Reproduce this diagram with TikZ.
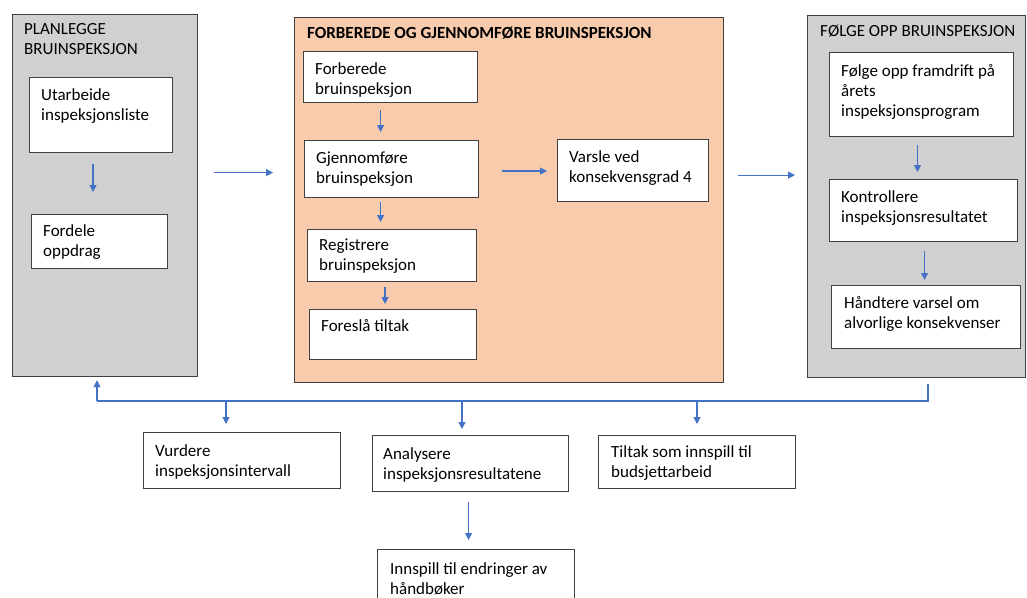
\documentclass[tikz,border=0pt]{standalone}
\usepackage{fontspec}
\setmainfont{Carlito}
\usetikzlibrary{arrows.meta,positioning,calc}
\definecolor{panelgray}{RGB}{208,208,208}
\definecolor{peach}{RGB}{248,203,173}
\definecolor{flowblue}{RGB}{68,114,196}
\definecolor{edgegray}{RGB}{64,64,64}

\begin{document}
\begin{tikzpicture}[x=1pt, y=-1pt,
  panel/.style={draw=edgegray, line width=1.2pt, anchor=north west, inner sep=0pt},
  stepbox/.style={draw=edgegray, line width=1.1pt, fill=white, anchor=north west, inner sep=0pt},
  steptext/.style={anchor=north west, align=left, inner sep=0pt, font=\fontsize{17}{20}\selectfont},
  flow/.style={draw=flowblue, line width=1.2pt, -{Triangle[length=7pt,width=7pt]}},
  link/.style={draw=flowblue, line width=1.2pt},
]
\useasboundingbox (0,0) rectangle (1027,597);

% Panels
\node[panel, fill=panelgray, minimum width=185, minimum height=362] (planlegge) at (12,14) {};
\node[steptext] at ([shift={(12,9)}]planlegge.north west) {PLANLEGGE\\BRUINSPEKSJON};

\node[panel, fill=peach, minimum width=429, minimum height=365] (gjennomfore) at (294,17) {};
\node[steptext, font=\fontsize{17}{20}\selectfont\bfseries] at ([shift={(13,10)}]gjennomfore.north west) {FORBEREDE OG GJENNOMFØRE BRUINSPEKSJON};

\node[panel, fill=panelgray, minimum width=218, minimum height=362] (folgeopp) at (807,15) {};
\node[steptext] at ([shift={(13,10)}]folgeopp.north west) {FØLGE OPP BRUINSPEKSJON};

% Planlegge steps
\node[stepbox, minimum width=143, minimum height=75] (utarbeide) at (29,77) {};
\node[steptext] at ([shift={(12,11)}]utarbeide.north west) {Utarbeide\\inspeksjonsliste};
\node[stepbox, minimum width=136, minimum height=54] (fordele) at (31,214) {};
\node[steptext] at ([shift={(12,10)}]fordele.north west) {Fordele\\oppdrag};

% Forberede og gjennomføre steps
\node[stepbox, minimum width=174, minimum height=51] (forberede) at (303,51) {};
\node[steptext] at ([shift={(12,11)}]forberede.north west) {Forberede\\bruinspeksjon};
\node[stepbox, minimum width=174, minimum height=57] (utfore) at (304,140) {};
\node[steptext] at ([shift={(12,12)}]utfore.north west) {Gjennomføre\\bruinspeksjon};
\node[stepbox, minimum width=169, minimum height=52] (registrere) at (307,229) {};
\node[steptext] at ([shift={(12,10)}]registrere.north west) {Registrere\\bruinspeksjon};
\node[stepbox, minimum width=167, minimum height=50] (foresla) at (309,309) {};
\node[steptext] at ([shift={(12,10)}]foresla.north west) {Foreslå tiltak};
\node[stepbox, minimum width=151, minimum height=62] (varsle) at (557,139) {};
\node[steptext] at ([shift={(12,11)}]varsle.north west) {Varsle ved\\konsekvensgrad 4};

% Følge opp steps
\node[stepbox, minimum width=184, minimum height=84] (framdrift) at (829,52) {};
\node[steptext] at ([shift={(12,12)}]framdrift.north west) {Følge opp framdrift på\\årets\\inspeksjonsprogram};
\node[stepbox, minimum width=188, minimum height=62] (kontrollere) at (829,179) {};
\node[steptext] at ([shift={(12,11)}]kontrollere.north west) {Kontrollere\\inspeksjonsresultatet};
\node[stepbox, minimum width=189, minimum height=63] (handtere) at (831,285) {};
\node[steptext] at ([shift={(13,11)}]handtere.north west) {Håndtere varsel om\\alvorlige konsekvenser};

% Bottom steps
\node[stepbox, minimum width=197, minimum height=56] (vurdere) at (143,432) {};
\node[steptext] at ([shift={(12,12)}]vurdere.north west) {Vurdere\\inspeksjonsintervall};
\node[stepbox, minimum width=196, minimum height=56] (analysere) at (372,435) {};
\node[steptext] at ([shift={(11,12)}]analysere.north west) {Analysere\\inspeksjonsresultatene};
\node[stepbox, minimum width=197, minimum height=53] (tiltak) at (598,435) {};
\node[steptext] at ([shift={(13,10)}]tiltak.north west) {Tiltak som innspill til\\budsjettarbeid};
\node[stepbox, minimum width=197, minimum height=60] (innspill) at (377,549) {};
\node[steptext] at ([shift={(13,13)}]innspill.north west) {Innspill til endringer av\\håndbøker};

% Arrows inside panels
\draw[flow, shorten <=11pt, shorten >=22pt] ([xshift=-8]utarbeide.south) -- ([xshift=-8]utarbeide.south |- fordele.north);
\draw[flow, shorten <=7pt, shorten >=8pt] ([xshift=-10]forberede.south) -- ([xshift=-10]forberede.south |- utfore.north);
\draw[flow, shorten <=4pt, shorten >=7pt] ([xshift=-11]utfore.south) -- ([xshift=-11]utfore.south |- registrere.north);
\draw[flow, shorten <=5pt, shorten >=5pt] ([xshift=-7]registrere.south) -- ([xshift=-7]registrere.south |- foresla.north);
\draw[flow, shorten <=23pt, shorten >=10pt] ([yshift=-2]utfore.east) -- ([yshift=-2]utfore.east -| varsle.west);
\draw[flow, shorten <=8pt, shorten >=7pt] ([xshift=-4]framdrift.south) -- ([xshift=-4]framdrift.south |- kontrollere.north);
\draw[flow, shorten <=9pt, shorten >=5pt] ([xshift=1]kontrollere.south) -- ([xshift=1]kontrollere.south |- handtere.north);

% Arrows between panels
\draw[flow, shorten <=16pt, shorten >=21pt] ([yshift=23]planlegge.east) -- ([yshift=23]planlegge.east -| gjennomfore.west);
\draw[flow, shorten <=14pt, shorten >=12pt] ([yshift=25]gjennomfore.east) -- ([yshift=25]gjennomfore.east -| folgeopp.west);

% Feedback bus
\coordinate (busR) at (928,401);
\coordinate (busL) at (97,401);
\coordinate (tapA) at (226,401);
\coordinate (tapB) at (462,401);
\coordinate (tapC) at (697,401);
\draw[link, shorten <=6pt] (folgeopp.south -| busR) -- (busR) -- (busL);
\draw[flow, shorten >=3pt] (busL) -- (busL |- planlegge.south);
\draw[flow, shorten >=8pt] (tapA) -- (tapA |- vurdere.north);
\draw[flow, shorten >=6pt] (tapB) -- (tapB |- analysere.north);
\draw[flow, shorten >=11pt] (tapC) -- (tapC |- tiltak.north);
\draw[flow, shorten <=10pt, shorten >=9pt] ([xshift=-2]analysere.south) -- ([xshift=-2]analysere.south |- innspill.north);
\end{tikzpicture}
\end{document}
